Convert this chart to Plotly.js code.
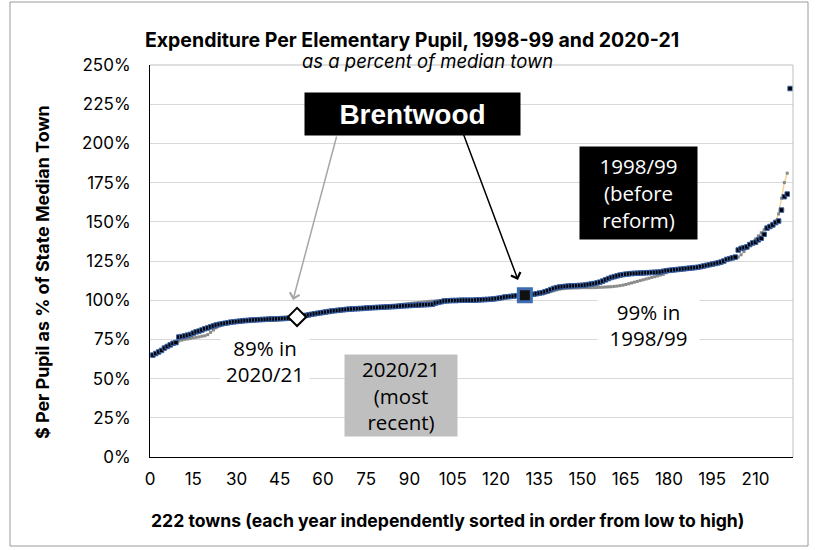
<!DOCTYPE html>
<html>
<head>
<meta charset="utf-8">
<script src="https://cdn.plot.ly/plotly-3.0.1.min.js"></script>
<style>html,body{margin:0;padding:0;background:#fff;}#chart{width:820px;height:550px;}</style>
</head>
<body>
<div id="chart"></div>
<script>
// 1998/99 per-pupil spending as % of median town, sorted low to high (222 towns)
const values1998 = [65,66,67,68,69.5,70.5,71.5,72.5,73,76.5,
76.8,77.2,77.7,78.2,79,79.8,80.3,81,81.8,82.3,
83,83.6,84.2,84.6,85,85.3,85.6,86,86.2,86.4,
86.6,86.8,87,87.1,87.3,87.4,87.5,87.6,87.7,87.8,
87.9,88,88,88.1,88.2,88.3,88.4,88.5,88.7,89,
89.3,89.7,90,90.3,90.6,91,91.3,91.6,91.9,92.2,
92.5,92.8,93.1,93.3,93.5,93.7,93.9,94.1,94.3,94.4,
94.5,94.6,94.7,94.8,95,95.1,95.2,95.3,95.4,95.5,
95.6,95.7,95.8,95.9,96,96.1,96.3,96.4,96.5,96.6,
96.7,96.8,96.9,97,97.1,97.2,97.3,97.4,98.2,98.6,
99,99.5,99.6,99.7,99.8,99.8,99.9,100,100,100,
100,100,100.1,100.2,100.3,100.4,100.5,100.6,100.8,101,
101.3,101.6,102,102.2,102.4,102.6,102.8,103,103.1,103.2,
103.4,103.6,103.8,104.1,104.5,104.8,105.4,106,106.8,107.5,
108,108.4,108.6,108.8,109,109.1,109.2,109.3,109.4,109.5,
109.7,110,110.3,110.6,111,111.5,112.2,113,113.8,114.5,
115,115.5,116,116.3,116.6,116.8,117,117.1,117.2,117.3,
117.4,117.5,117.6,117.7,117.8,117.9,118,118.4,118.8,119,
119.2,119.4,119.6,119.8,120,120.2,120.4,120.6,120.8,121,
121.4,121.8,122.2,122.6,123,123.4,123.8,124.3,125,126,
126.5,127,127.5,132,133,133.5,134,135.5,136.5,137,
138.5,139.5,142,146,147,148,149.5,150.5,157.5,166,
167.7,235];

// 2020/21 per-pupil spending as % of median town, sorted low to high
const values2021 = [65,65.8,66.8,67.8,69,70,71,72,72.8,74,
74.5,75,75.3,75.6,76,76.3,76.6,77,77.3,78,
79.5,81,82.5,83.5,84.2,84.8,85.3,85.7,85.9,86.1,
86.3,86.5,86.7,86.8,87,87.1,87.2,87.3,87.4,87.5,
87.6,87.7,87.7,87.8,87.9,88,88.1,88.2,88.4,88.7,
89.3,89.5,89.8,90.1,90.4,90.8,91.1,91.4,91.7,92,
92.3,92.6,92.9,93.1,93.3,93.5,93.7,93.9,94.1,94.2,
94.3,94.4,94.5,94.6,94.8,94.9,95,95.1,95.2,95.3,
95.5,95.7,96,96.3,96.6,96.9,97.2,97.5,97.7,97.9,
98.1,98.3,98.5,98.7,98.9,99.1,99.3,99.4,99.5,99.6,
99.7,99.8,99.8,99.9,99.9,100,100,100,100,100,
100,100,100.1,100.2,100.3,100.4,100.5,100.6,100.7,100.9,
101.1,101.4,101.7,102,102.2,102.4,102.6,102.8,102.9,103,
103.2,103.4,103.6,103.8,104,104.3,104.6,105,105.5,106,
106.5,107,107.3,107.5,107.6,107.7,107.8,107.8,107.9,108,
108,108,108,108,108.1,108.2,108.3,108.4,108.5,108.6,
108.8,109,109.3,109.6,110,110.5,111,111.5,112,112.5,
113,113.5,114,114.5,115,115.5,116,116.5,117.5,118.6,
119,119.2,119.4,119.6,119.8,120,120.2,120.4,120.6,120.8,
121.2,121.6,122,122.4,122.8,123.2,123.6,124.1,124.8,125.5,
126,126.5,127,127.5,129,131,133,135,137,139,
141,143,145,146,147.5,149,150.5,155,165,175,
181];

// Brentwood's rank in each year
const brentwoodRank1998 = 130;
const brentwoodRank2021 = 51;

const xTickVals = [0,15,30,45,60,75,90,105,120,135,150,165,180,195,210];
const yTickVals = [0,25,50,75,100,125,150,175,200,225,250];
const yTickText = ["0%","25%","50%","75%","100%","125%","150%","175%","200%","225%","250%"];

const titleText = "Expenditure Per Elementary Pupil, 1998-99 and 2020-21";
const subtitleText = "as a percent of median town";
const yTitleText = "$ Per Pupil as % of State Median Town";
const xTitleText = "222 towns (each year independently sorted in order from low to high)";

const ranks1998 = values1998.map((v, i) => i + 1);
const ranks2021 = values2021.map((v, i) => i + 1);

// plot area in pixels
const L = 150, R = 793, T = 65, B = 457;
const W = 820, H = 550;
const px = x => (x - L) / (R - L);
const py = y => (B - y) / (B - T);

const traces = [
  {
    x: ranks2021, y: values2021, type: 'scatter', mode: 'lines+markers',
    line: {color: '#f6d39a', width: 1.5},
    marker: {symbol: 'square', size: 3, color: '#8a8a8a'},
    hoverinfo: 'skip', showlegend: false
  },
  {
    x: ranks1998, y: values1998, type: 'scatter', mode: 'markers',
    marker: {symbol: 'square', size: 4.5, color: '#000000', line: {color: '#3a62a6', width: 1}},
    hoverinfo: 'skip', showlegend: false
  },
  {
    x: [brentwoodRank2021], y: [values2021[brentwoodRank2021 - 1]], type: 'scatter', mode: 'markers',
    marker: {symbol: 'diamond', size: 14, color: '#ffffff', line: {color: '#000000', width: 2}},
    hoverinfo: 'skip', showlegend: false
  },
  {
    x: [brentwoodRank1998], y: [values1998[brentwoodRank1998 - 1]], type: 'scatter', mode: 'markers',
    marker: {symbol: 'square', size: 13, color: '#111111', line: {color: '#3d6cb0', width: 3}},
    hoverinfo: 'skip', showlegend: false
  }
];

const boxAnn = (text, cx, cy, w, h, bg, color, size, family) => ({
  text: text, xref: 'paper', yref: 'paper', x: px(cx), y: py(cy),
  xanchor: 'center', yanchor: 'middle', showarrow: false,
  bgcolor: bg, width: w, height: h, borderpad: 2,
  font: {family: family, size: size, color: color}
});

const annFont = '"Open Sans", sans-serif';

const layout = {
  width: W, height: H,
  margin: {l: L, r: W - R, t: T, b: H - B, pad: 0},
  paper_bgcolor: '#ffffff', plot_bgcolor: '#ffffff',
  font: {family: 'Inter, "Liberation Sans", Arial, sans-serif', color: '#000000'},
  title: {
    text: '<b>' + titleText + '</b>',
    font: {family: 'Inter, sans-serif', size: 19.5, color: '#000'},
    x: 412 / W, xanchor: 'center', y: 1 - 40 / H, yanchor: 'middle'
  },
  xaxis: {
    range: [0, 223], tickvals: xTickVals, ticktext: xTickVals.map(String),
    showgrid: false, zeroline: false,
    showline: true, linecolor: '#000000', linewidth: 1,
    ticks: '', ticklabelstandoff: 7,
    tickfont: {family: 'Inter, sans-serif', size: 17, color: '#000'}
  },
  yaxis: {
    range: [0, 250], tickvals: yTickVals, ticktext: yTickText,
    showgrid: true, gridcolor: '#d9d9d9', gridwidth: 1, zeroline: false,
    showline: true, linecolor: '#000000', linewidth: 1,
    ticks: '', ticklabelstandoff: 15,
    tickfont: {family: 'Inter, sans-serif', size: 17, color: '#000'}
  },
  shapes: [
    {type: 'line', xref: 'paper', yref: 'paper', x0: 1, x1: 1, y0: 0, y1: 1, line: {color: '#bfbfbf', width: 1}},
    {type: 'line', xref: 'paper', yref: 'paper', x0: 0, x1: 1, y0: 1, y1: 1, line: {color: '#bfbfbf', width: 1}},
    {type: 'rect', xref: 'paper', yref: 'paper', x0: px(10), x1: px(808), y0: py(546), y1: py(2), line: {color: '#9a9a9a', width: 1}, layer: 'below'}
  ],
  annotations: [
    {text: '<i>' + subtitleText + '</i>', xref: 'paper', yref: 'paper', x: px(427), y: py(61),
     showarrow: false, font: {family: 'Inter, sans-serif', size: 18.5, color: '#000'}, xanchor: 'center', yanchor: 'middle'},
    // axis titles
    {text: '<b>' + xTitleText + '</b>', xref: 'paper', yref: 'paper', x: px(447), y: py(520),
     showarrow: false, font: {family: 'Inter, sans-serif', size: 17.6, color: '#000'}, xanchor: 'center', yanchor: 'middle'},
    {text: '<b>' + yTitleText + '</b>', xref: 'paper', yref: 'paper', x: px(42), y: py(272), textangle: -90,
     showarrow: false, font: {family: 'Inter, sans-serif', size: 17.9, color: '#000'}, xanchor: 'center', yanchor: 'middle'},
    // arrows
    {text: '', xref: 'paper', yref: 'paper', x: px(293), y: py(300), ax: 44, ay: -165,
     showarrow: true, arrowhead: 4, arrowsize: 1.3, arrowwidth: 1.5, arrowcolor: '#a6a6a6'},
    {text: '', xref: 'paper', yref: 'paper', x: px(518), y: py(280), ax: -55, ay: -147,
     showarrow: true, arrowhead: 4, arrowsize: 1.3, arrowwidth: 1.5, arrowcolor: '#000000'},
    boxAnn('<b>Brentwood</b>', 412, 114, 211, 38, '#000000', '#ffffff', 28, '"Liberation Sans", Arial, sans-serif'),
    boxAnn('1998/99<br>(before<br>reform)', 638, 193, 113, 88, '#000000', '#ffffff', 20.5, annFont),
    boxAnn('2020/21<br>(most<br>recent)', 401, 395, 108, 77, '#bfbfbf', '#000000', 20.5, annFont),
    boxAnn('99% in<br>1998/99', 648, 325, 97, 54, '#ffffff', '#000000', 20.5, annFont),
    boxAnn('89% in<br>2020/21', 265, 361, 84, 54, '#ffffff', '#000000', 20.5, annFont)
  ]
};

Plotly.newPlot('chart', traces, layout, {displayModeBar: false, staticPlot: true});
</script>
</body>
</html>
